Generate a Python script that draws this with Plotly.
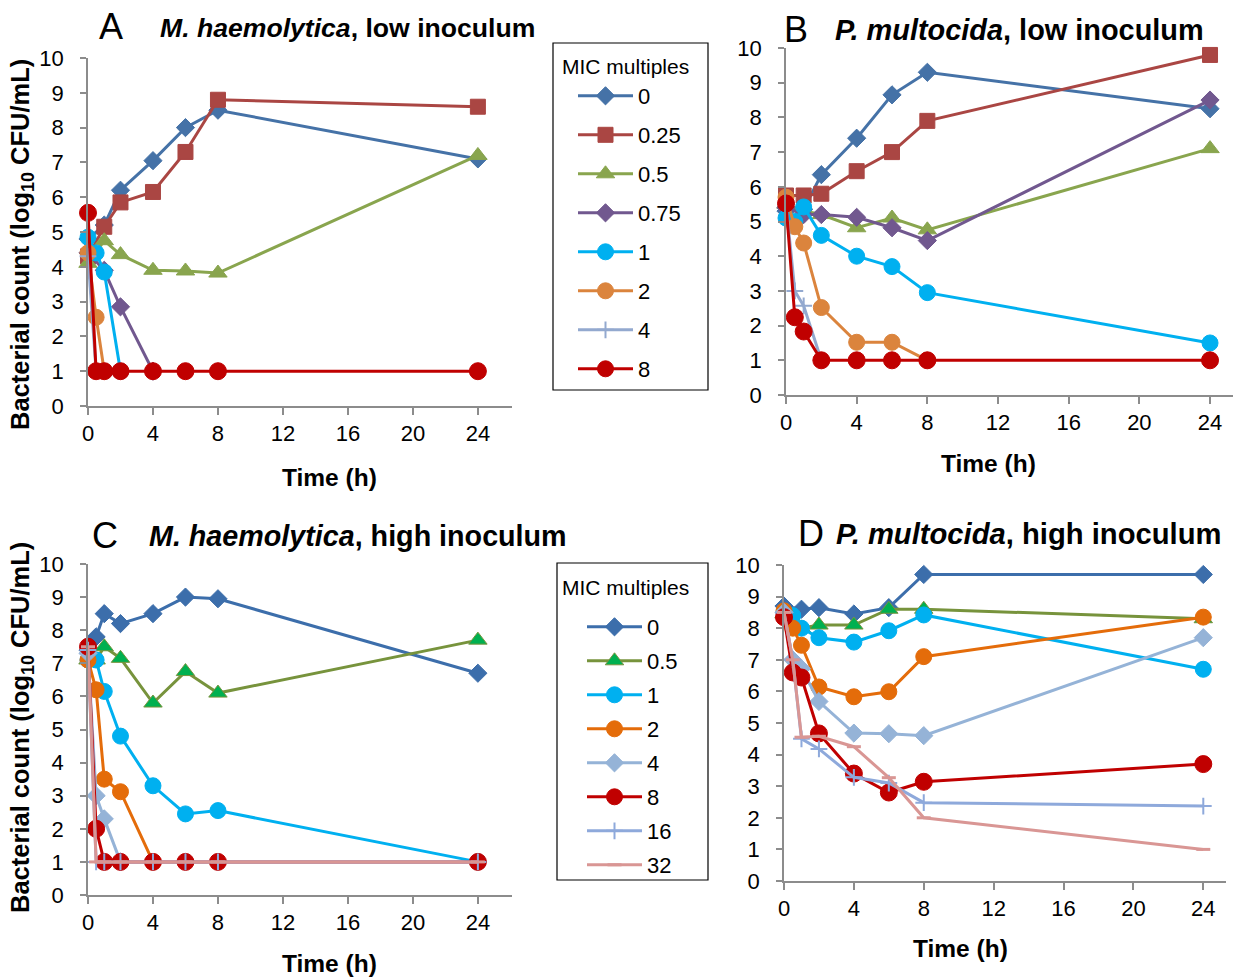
import plotly.graph_objects as go

# ---------------- data ----------------
TIME = [0, 0.5, 1, 2, 4, 6, 8, 24]

# Panel A: M. haemolytica, low inoculum
A_LABELS = ["0", "0.25", "0.5", "0.75", "1", "2", "4", "8"]
a_0 = [4.8, None, 5.2, 6.2, 7.05, 8.0, 8.5, 7.1]
a_025 = [4.3, None, 5.15, 5.85, 6.15, 7.3, 8.8, 8.6]
a_05 = [4.1, None, 4.75, 4.35, 3.9, 3.88, 3.82, 7.2]
a_075 = [4.4, None, 3.9, 2.85, 1.0, None, None, None]
a_1 = [4.85, 4.4, 3.85, 1.0, None, None, None, None]
a_2 = [4.4, 2.55, 1.0, None, None, None, None, None]
a_4 = [4.3, 1.0, None, None, None, None, None, None]
a_8 = [5.55, 1.0, 1.0, 1.0, 1.0, 1.0, 1.0, 1.0]

# Panel B: P. multocida, low inoculum
b_0 = [5.3, None, 5.35, 6.35, 7.4, 8.65, 9.3, 8.25]
b_025 = [5.75, None, 5.75, 5.8, 6.45, 7.0, 7.9, 9.8]
b_05 = [5.5, None, 5.3, 5.2, 4.82, 5.1, 4.76, 7.1]
b_075 = [5.4, None, 5.2, 5.2, 5.12, 4.82, 4.45, 8.5]
b_1 = [5.1, 5.0, 5.42, 4.6, 4.0, 3.7, 2.95, 1.5]
b_2 = [5.7, 4.85, 4.38, 2.52, 1.52, 1.52, 1.0, None]
b_4 = [5.5, 3.0, 2.57, 1.0, None, None, None, None]
b_8 = [5.52, 2.24, 1.83, 1.0, 1.0, 1.0, 1.0, 1.0]

# Panel C: M. haemolytica, high inoculum
C_LABELS = ["0", "0.5", "1", "2", "4", "8", "16", "32"]
c_0 = [7.4, 7.8, 8.5, 8.2, 8.5, 9.0, 8.95, 6.7]
c_05 = [7.1, 7.1, 7.5, 7.15, 5.8, 6.75, 6.1, 7.7]
c_1 = [7.1, 7.1, 6.15, 4.8, 3.3, 2.45, 2.55, 1.0]
c_2 = [7.1, 6.2, 3.5, 3.12, 1.0, None, None, None]
c_4 = [7.3, 3.0, 2.3, 1.0, None, None, None, None]
c_8 = [7.5, 2.0, 1.0, 1.0, 1.0, 1.0, 1.0, 1.0]
c_16 = [7.4, 1.0, 1.0, 1.0, 1.0, 1.0, 1.0, 1.0]
c_32 = [7.5, 1.0, 1.0, 1.0, 1.0, 1.0, 1.0, 1.0]

# Panel D: P. multocida, high inoculum
d_0 = [8.7, None, 8.6, 8.65, 8.45, 8.65, 9.7, 9.7]
d_05 = [8.45, None, 8.0, 8.1, 8.1, 8.6, 8.6, 8.3]
d_1 = [8.5, 8.4, 8.0, 7.7, 7.56, 7.92, 8.42, 6.7]
d_2 = [8.55, 8.0, 7.46, 6.14, 5.83, 5.99, 7.1, 8.35]
d_4 = [8.5, 7.0, 6.72, 5.68, 4.68, 4.66, 4.6, 7.7]
d_8 = [8.35, 6.6, 6.44, 4.67, 3.4, 2.8, 3.14, 3.7]
d_16 = [8.5, 7.0, 4.5, 4.18, 3.28, 3.1, 2.48, 2.37]
d_32 = [8.5, 7.0, 4.55, 4.58, 4.25, 3.27, 2.0, 1.0]

X_TICKS = [0, 4, 8, 12, 16, 20, 24]
Y_TICKS = list(range(0, 11))

# ---------------- styles ----------------
FONT = "Liberation Sans, Arial, sans-serif"
W, H = 1235, 978
AXC = "#8c8c8c"

STYLE_AB = [
    dict(color="#4572A7", symbol="diamond", size=14, lc="#4572A7"),
    dict(color="#AA4643", symbol="square", size=15, lc="#AA4643"),
    dict(color="#89A54E", symbol="triangle-up", size=16, lc="#89A54E"),
    dict(color="#71588F", symbol="diamond", size=14, lc="#71588F"),
    dict(color="#00B0F0", symbol="circle", size=16, lc="#00B0F0"),
    dict(color="#DB843D", symbol="circle", size=16, lc="#DB843D"),
    dict(color="#93A9CF", symbol="cross-thin", size=12, lc="#93A9CF"),
    dict(color="#C00000", symbol="circle", size=17, lc="#C00000"),
]
STYLE_CD = [
    dict(color="#3C6EAB", symbol="diamond", size=14, lc="#3C6EAB"),
    dict(color="#00B050", symbol="triangle-up", size=16, lc="#77933C"),
    dict(color="#00B0F0", symbol="circle", size=16, lc="#00B0F0"),
    dict(color="#E46C0A", symbol="circle", size=16, lc="#E46C0A"),
    dict(color="#95B3D7", symbol="diamond", size=14, lc="#95B3D7"),
    dict(color="#C00000", symbol="circle", size=17, lc="#C00000"),
    dict(color="#8EA9DB", symbol="cross-thin", size=12, lc="#8EA9DB"),
    dict(color="#D99694", symbol="line-ew", size=10, lc="#D99694"),
]

fig = go.Figure()


def px_dom_x(x0, x1):
    return [x0 / W, x1 / W]


def px_dom_y(ytop, ybot):
    return [1 - ybot / H, 1 - ytop / H]


panels = [
    # axis suffix, series, labels, styles, xdomain px, ydomain px, xmax, legend
    ("", [a_0, a_025, a_05, a_075, a_1, a_2, a_4, a_8], A_LABELS, STYLE_AB, (88, 512), (58, 406), 26.1, "legend"),
    ("2", [b_0, b_025, b_05, b_075, b_1, b_2, b_4, b_8], A_LABELS, STYLE_AB, (786, 1233), (48, 395), 25.3, None),
    ("3", [c_0, c_05, c_1, c_2, c_4, c_8, c_16, c_32], C_LABELS, STYLE_CD, (88, 512), (564, 895), 26.1, "legend2"),
    ("4", [d_0, d_05, d_1, d_2, d_4, d_8, d_16, d_32], C_LABELS, STYLE_CD, (784, 1226), (565, 881), 25.3, None),
]

for suffix, series, labels, styles, xd, yd, xmax, leg in panels:
    for vals, lab, st in zip(series, labels, styles):
        sym = st["symbol"]
        if sym in ("cross-thin", "line-ew"):
            marker = dict(symbol=sym, size=st["size"], color=st["color"],
                          line=dict(color=st["color"], width=3 if sym == "line-ew" else 2))
        else:
            marker = dict(symbol=sym, size=st["size"], color=st["color"],
                          line=dict(color=st["lc"], width=1))
        fig.add_trace(go.Scatter(
            x=TIME, y=vals, mode="lines+markers", name=lab,
            line=dict(color=st["lc"], width=3), marker=marker,
            connectgaps=True, cliponaxis=False,
            xaxis="x" + suffix, yaxis="y" + suffix,
            showlegend=leg is not None,
            legend=leg if leg else "legend",
            legendgroup=(leg or "") + lab,
        ))
    axis_common = dict(showline=True, linecolor=AXC, linewidth=1.5, ticks="outside",
                       tickcolor=AXC, tickwidth=1.5, showgrid=False, zeroline=False,
                       automargin=False,
                       tickfont=dict(family=FONT, size=22, color="#000"))
    fig.layout["xaxis" + suffix] = dict(axis_common, domain=px_dom_x(*xd), range=[0, xmax],
                                        tickvals=X_TICKS, anchor="y" + suffix, ticklen=7)
    fig.layout["yaxis" + suffix] = dict(axis_common, domain=px_dom_y(*yd), range=[0, 10],
                                        tickvals=Y_TICKS, anchor="x" + suffix, ticklen=6,
                                        ticklabelstandoff=12)

# ---------------- legends ----------------
fig.update_layout(
    legend=dict(x=573 / W, y=1 - 75 / H, xanchor="left", yanchor="top",
                bgcolor="rgba(0,0,0,0)", borderwidth=0,
                font=dict(family=FONT, size=22, color="#000"),
                tracegroupgap=7.4, itemsizing="trace", itemwidth=55),
    legend2=dict(x=582 / W, y=1 - 606 / H, xanchor="left", yanchor="top",
                 bgcolor="rgba(0,0,0,0)", borderwidth=0,
                 font=dict(family=FONT, size=22, color="#000"),
                 tracegroupgap=2.4, itemsizing="trace", itemwidth=55),
)

shapes = [
    dict(type="rect", xref="paper", yref="paper", x0=553 / W, x1=708 / W,
         y0=1 - 390 / H, y1=1 - 43 / H, line=dict(color="#000", width=1.2)),
    dict(type="rect", xref="paper", yref="paper", x0=557 / W, x1=708 / W,
         y0=1 - 880 / H, y1=1 - 563 / H, line=dict(color="#000", width=1.2)),
]

# ---------------- text ----------------
ann = []


def add_text(x, y, text, size, xanchor="left", angle=0):
    ann.append(dict(x=x / W, y=1 - y / H, xref="paper", yref="paper", text=text,
                    showarrow=False, xanchor=xanchor, yanchor="middle", textangle=angle,
                    font=dict(family=FONT, size=size, color="#000")))


add_text(560, 67, "MIC multiples", 21)
add_text(560, 587, "MIC multiples", 21)

add_text(97, 27, "A", 36)
add_text(158, 28, "<b><i>M. haemolytica</i>, low inoculum</b>", 26.6)
add_text(782, 29, "B", 36)
add_text(833, 30, "<b><i>P. multocida</i>, low inoculum</b>", 28.9)
add_text(90, 535, "C", 36)
add_text(147, 536, "<b><i>M. haemolytica</i>, high inoculum</b>", 28.7)
add_text(796, 533, "D", 36)
add_text(834, 534, "<b><i>P. multocida</i>, high inoculum</b>", 29.2)

add_text(329, 477, "<b>Time (h)</b>", 24.5, xanchor="center")
add_text(988, 463, "<b>Time (h)</b>", 24.5, xanchor="center")
add_text(329, 963, "<b>Time (h)</b>", 24.5, xanchor="center")
add_text(960, 948, "<b>Time (h)</b>", 24.5, xanchor="center")

ytitle = "<b>Bacterial count (log<sub>10</sub> CFU/mL)</b>"
add_text(22, 245, ytitle, 25.5, xanchor="center", angle=-90)
add_text(22, 728, ytitle, 25.5, xanchor="center", angle=-90)

fig.update_layout(
    width=W, height=H, margin=dict(l=0, r=0, t=0, b=0, autoexpand=False),
    paper_bgcolor="white", plot_bgcolor="white",
    annotations=ann, shapes=shapes,
    font=dict(family=FONT, color="#000"),
)

fig.write_html("out.html", config={"displayModeBar": False},
               post_script="document.body.style.margin='0px';")
